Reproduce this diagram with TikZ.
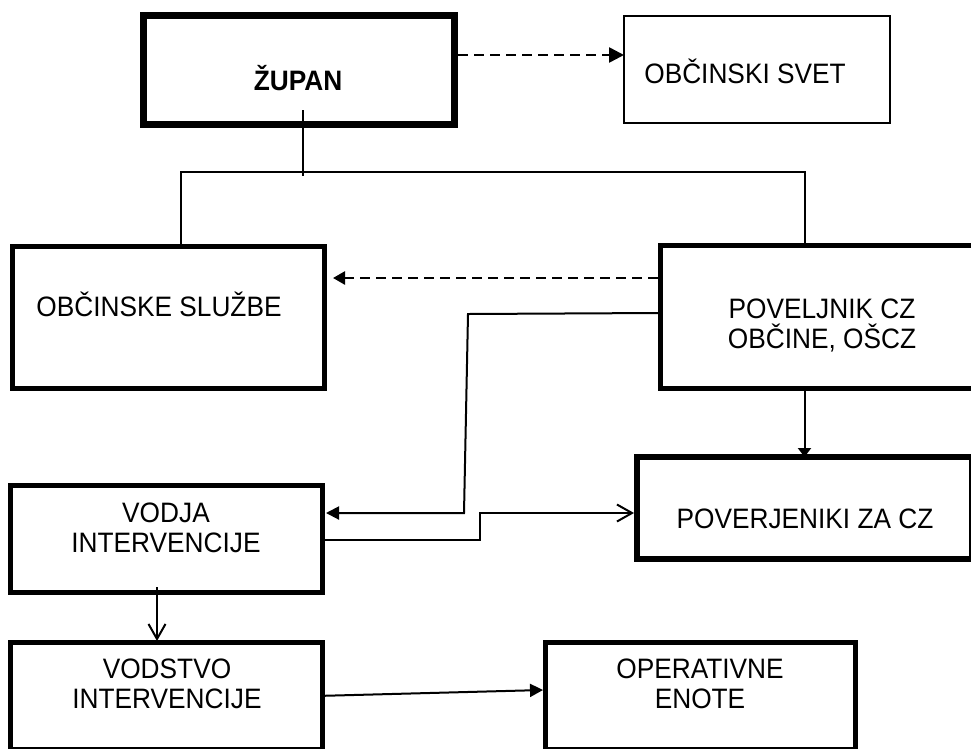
\documentclass[tikz,border=0pt]{standalone}
\usepackage{fontspec}
\setmainfont{Liberation Sans}
\usetikzlibrary{arrows.meta,calc}
\newcommand\vstr[1]{\scalebox{1.01}[1.08]{#1}}
\begin{document}
\begin{tikzpicture}[x=1pt,y=-1pt,
  box/.style={draw, line width=5pt, inner sep=0pt, outer sep=0pt},
  lab/.style={font=\fontsize{26}{30}\selectfont, align=center, inner sep=0pt},
  one/.style={lab, text height=20pt, text depth=0pt},
  conn/.style={line width=2pt},
  dashconn/.style={line width=2.6pt, dash pattern=on 10pt off 6pt},
  filltip/.style={-{Triangle[length=#1,width=#1]}},
  opentip/.style={-{Straight Barb[length=15pt,width=17pt]}}
]
\useasboundingbox (0,0) rectangle (971,748);
\clip (0,0) rectangle (971,748);

% boxes
\node[box, line width=7pt, minimum width=311pt, minimum height=109pt] (zupan) at (299,70) {};
\node[box, line width=1.5pt, minimum width=266pt, minimum height=107pt] (svet) at (757,69.5) {};
\node[box, minimum width=312pt, minimum height=142pt] (sluzbe) at (168.5,317.5) {};
\node[box, line width=5.5pt, minimum width=329.5pt, minimum height=143pt] (povelj) at (825.25,317) {};
\node[box, minimum width=312pt, minimum height=107pt] (vodja) at (166.5,539) {};
\node[box, line width=6pt, minimum width=335pt, minimum height=102pt] (poverj) at (804.5,508) {};
\node[box, minimum width=312pt, minimum height=106.5pt] (vodstvo) at (166.5,695.75) {};
\node[box, minimum width=310pt, minimum height=106.5pt] (operat) at (700.5,695.75) {};

% texts
\node[one, font=\fontsize{26}{30}\selectfont\bfseries] (zupanT) at (298,80) {\vstr{ŽUPAN}};
\node[one] (svetT) at (745,73) {\vstr{OBČINSKI SVET}};
\node[one] (sluzbeT) at (159,306) {\vstr{OBČINSKE SLUŽBE}};
\node[lab] (poveljT) at (822,325) {\vstr{POVELJNIK CZ}\\\vstr{OBČINE, OŠCZ}};
\node[lab] (vodjaT) at (166,528) {\vstr{VODJA}\\\vstr{INTERVENCIJE}};
\node[one] (poverjT) at (805,518) {\vstr{POVERJENIKI ZA CZ}};
\node[lab] (vodstvoT) at (167,684) {\vstr{VODSTVO}\\\vstr{INTERVENCIJE}};
\node[lab] (operatT) at (700,684) {\vstr{OPERATIVNE}\\\vstr{ENOTE}};

% tree from ZUPAN
\coordinate (busL) at (181,172);
\coordinate (busR) at (805,172);
\draw[conn] ([shift={(4,40)}]zupan.center) -- ([shift={(4,106)}]zupan.center);
\draw[conn] (sluzbe.north -| busL) -- (busL) -- (busR) -- (povelj.north -| busR);

% dashed arrows
\draw[dashconn, -{Triangle[length=15pt,width=15pt]}]
  ([shift={(3.5,-15)}]zupan.east) -- ([shift={(0,-14.5)}]svet.west);
\draw[dashconn, -{Triangle[length=12pt,width=13pt]}]
  ([shift={(-2.75,-39)}]povelj.west) -- ([shift={(8.5,-39.5)}]sluzbe.east);

% POVELJNIK -> VODJA
\coordinate (b1) at (468,314);
\coordinate (b2) at (464,513);
\draw[conn, filltip=13pt] ([shift={(-2.75,-4)}]povelj.west) -- (b1) -- (b2) -- ([shift={(3.5,-26)}]vodja.east);

% VODJA -> POVERJENIKI
\coordinate (c1) at (480,540);
\coordinate (c2) at (480,513);
\draw[conn, opentip] ([shift={(2.5,1)}]vodja.east) -- (c1) -- (c2) -- ([shift={(-3,5)}]poverj.west);

% POVELJNIK -> POVERJENIKI
\draw[conn, -{Triangle[length=9pt,width=13pt]}] (povelj.south -| poverj.north) -- (poverj.north);

% VODJA -> VODSTVO
\draw[conn, opentip] ([shift={(-9.5,48)}]vodja.center) -- ([xshift=-9.5pt,yshift=1.5pt]vodstvo.north);

% VODSTVO -> OPERATIVNE
\draw[conn, filltip=13pt] ([xshift=2.5pt]vodstvo.east) -- ([shift={(-2.5,-5.75)}]operat.west);
\end{tikzpicture}
\end{document}
